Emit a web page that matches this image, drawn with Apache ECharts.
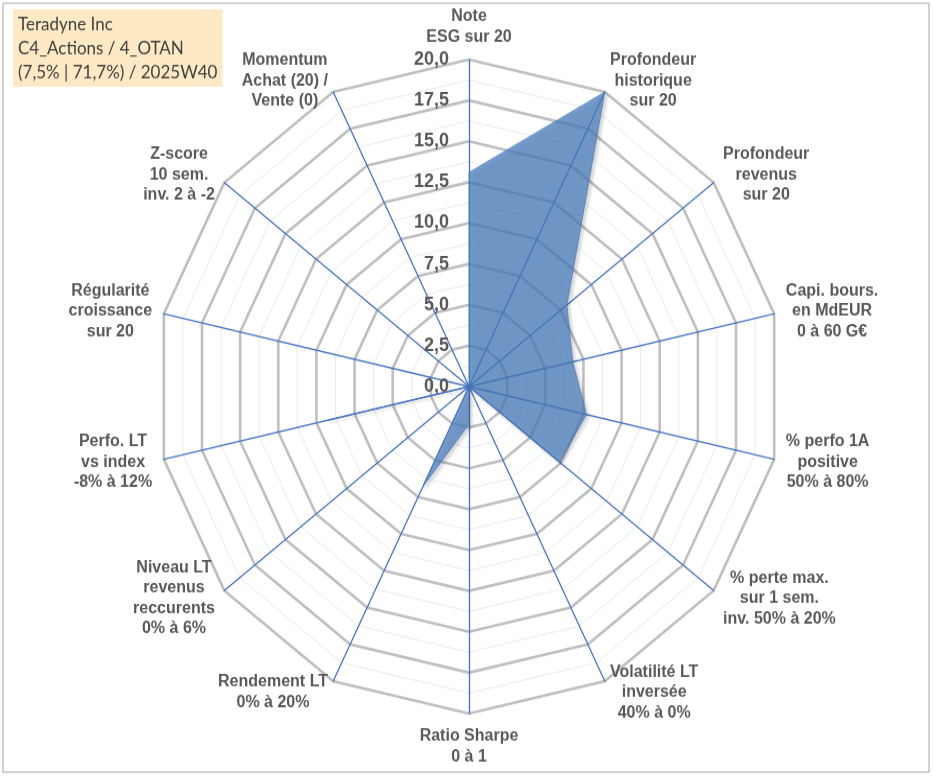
<!DOCTYPE html>
<html>
<head>
<meta charset="utf-8">
<script src="https://cdn.jsdelivr.net/npm/echarts@6/dist/echarts.min.js"></script>
<style>
  html, body { margin: 0; padding: 0; background: #fff; }
  #wrap { width: 933px; height: 776px; overflow: hidden; }
  /* l'image d'origine est legerement etiree verticalement */
  #radarChart { width: 933px; height: 743px; transform: scaleY(1.0447); transform-origin: 0 0; }
</style>
</head>
<body>
<div id="wrap"><div id="radarChart"></div></div>
<script>
/* Radar Teradyne Inc -- axes dans le sens horaire, depuis le haut */
var axisNames = [
    'Note\nESG sur 20',
    'Profondeur\nhistorique\nsur 20',
    'Profondeur\nrevenus\nsur 20',
    'Capi. bours.\nen MdEUR\n0 à 60 G€',
    '% perfo 1A\npositive\n50% à 80%',
    '% perte max.\nsur 1 sem.\ninv. 50% à 20%',
    'Volatilité LT\ninversée\n40% à 0%',
    'Ratio Sharpe\n0 à 1',
    'Rendement LT\n0% à 20%',
    'Niveau LT\nrevenus\nreccurents\n0% à 6%',
    'Perfo. LT\nvs index\n-8% à 12%',
    'Régularité\ncroissance\nsur 20',
    'Z-score\n10 sem.\ninv. 2 à -2',
    'Momentum\nAchat (20) /\nVente (0)'
];
var scores = [13.1, 20, 8.0, 6.8, 7.7, 7.4, 0, 2.3, 6.8, 0, 9.3, 0, 0, 0];
var scaleMin = 0;
var scaleMax = 20;
var titleLines = ['Teradyne Inc', 'C4_Actions / 4_OTAN', '(7,5% | 71,7%) / 2025W40'];

var labelFont = "'Liberation Sans', Arial, sans-serif";

// echarts place les indicateurs dans le sens anti-horaire -> on inverse (sauf le premier)
var order = [0];
for (var i = axisNames.length - 1; i > 0; i--) {
    order.push(i);
}

function buildIndicators(withLabel) {
    return order.map(function (k, idx) {
        var ind = { name: axisNames[k], min: scaleMin, max: scaleMax };
        if (withLabel && idx === 0) {
            // graduations seulement sur l'axe "Note ESG"
            ind.axisLabel = {
                show: true,
                fontSize: 18,
                fontWeight: 'bold',
                fontFamily: labelFont,
                color: '#595959',
                margin: 20,
                formatter: function (v) {
                    return v.toFixed(1).replace('.', ',');
                }
            };
        }
        return ind;
    });
}

var center = [469, 370];
var radius = 313;

var dom = document.getElementById('radarChart');
var myChart = echarts.init(dom, null, { renderer: 'canvas' });

var option = {
    backgroundColor: '#fff',
    animation: false,
    textStyle: { fontFamily: labelFont },
    title: {
        text: titleLines.join('\n'),
        left: 13,
        top: 9,
        padding: [3, 5, 2, 5],
        backgroundColor: '#fde9c4',
        textStyle: {
            fontFamily: 'Lato',
            fontWeight: 'normal',
            fontSize: 17,
            lineHeight: 23,
            color: '#404040'
        }
    },
    graphic: [{
        type: 'rect',
        silent: true,
        shape: { x: 3, y: 3, width: 926, height: 736 },
        style: { fill: null, stroke: '#a6a6a6', lineWidth: 1 }
    }],
    radar: [
        { // grille fine (pas de 1,25)
            indicator: buildIndicators(false),
            center: center,
            radius: radius,
            shape: 'polygon',
            splitNumber: 16,
            axisName: { show: false },
            axisLine: { show: false },
            axisTick: { show: false },
            axisLabel: { show: false },
            splitArea: { show: false },
            splitLine: { lineStyle: { color: '#ebebeb', width: 1 } }
        },
        { // grille principale (pas de 2,5) + axes bleus
            indicator: buildIndicators(true),
            center: center,
            radius: radius,
            shape: 'polygon',
            splitNumber: 8,
            nameGap: 12,
            axisName: {
                color: '#595959',
                fontFamily: labelFont,
                fontWeight: 'bold',
                fontSize: 16,
                lineHeight: 19.5,
                formatter: function (name) {
                    return name.split('\n').map(function (s) {
                        return '{c|' + s + '}';
                    }).join('\n');
                },
                rich: {
                    c: {
                        align: 'center',
                        color: '#595959',
                        fontFamily: labelFont,
                        fontWeight: 'bold',
                        fontSize: 16,
                        lineHeight: 19.5
                    }
                }
            },
            axisLine: { show: true, lineStyle: { color: '#4472c4', width: 1.3 } },
            axisTick: { show: false },
            axisLabel: { show: false },
            splitArea: { show: false },
            splitLine: { lineStyle: { color: '#bfbfbf', width: 2.6 } }
        }
    ],
    series: [{
        name: 'Teradyne Inc',
        type: 'radar',
        radarIndex: 1,
        symbol: 'none',
        lineStyle: {
            color: '#4472c4',
            width: 1,
            opacity: 0.6,
            shadowColor: 'rgba(0,0,0,0.3)',
            shadowBlur: 3,
            shadowOffsetX: 2,
            shadowOffsetY: 2
        },
        areaStyle: {
            color: '#4a7ebf',
            opacity: 0.72,
            shadowColor: 'rgba(0,0,0,0.25)',
            shadowBlur: 4,
            shadowOffsetX: 2,
            shadowOffsetY: 2
        },
        data: [{
            name: 'Teradyne Inc',
            value: order.map(function (k) { return scores[k]; })
        }]
    }]
};

myChart.setOption(option);
</script>
</body>
</html>
